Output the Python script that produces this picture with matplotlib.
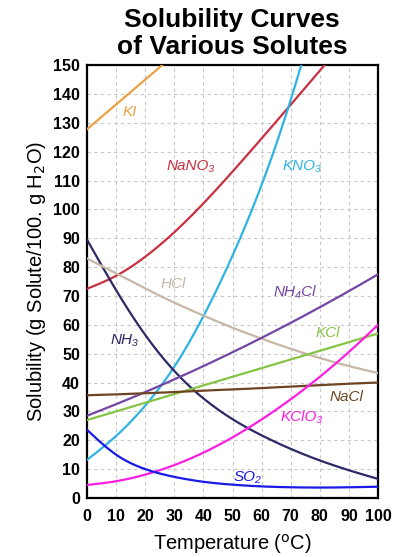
import numpy as np
import matplotlib
matplotlib.use("Agg")
import matplotlib.pyplot as plt

plt.rcParams["font.family"] = ["Liberation Sans", "DejaVu Sans"]

# Temperatures (ºC) and solubility (g solute / 100 g water)
temps = [0, 10, 20, 30, 40, 50, 60, 70, 80, 90, 100]

ki = [127.8, 136.4, 145, 153.6, 162.2, 170.8, 179.4, 188, 196.6, 205.2, 213.8]
nano3 = [72.5, 77, 83.6, 92.1, 102.1, 113.1, 124.6, 136.3, 148.1, 159.9, 171.7]
kno3 = [13.2, 21.5, 32, 45.5, 63, 84, 108.5, 138, 173, 213, 258]
nh3 = [89.5, 72, 56.5, 44, 34.5, 27.3, 21.7, 17, 13, 9.6, 6.6]
hcl = [83, 77.8, 72.6, 67.7, 63.2, 59, 55.2, 51.7, 48.5, 45.7, 43.3]
nh4cl = [28.5, 32.5, 36.7, 41.1, 45.7, 50.5, 55.5, 60.7, 66.1, 71.7, 77.5]
kcl = [27, 30, 33, 36, 39, 42, 45, 48, 51, 54, 57]
nacl = [35.6, 35.9, 36.3, 36.7, 37.2, 37.6, 38.1, 38.6, 39.1, 39.6, 40]
kclo3 = [4.5, 5.8, 8.1, 11.4, 15.7, 21, 27.2, 34.2, 42, 50.6, 60]
so2 = [23.6, 15, 10, 7.3, 5.6, 4.6, 4, 3.7, 3.6, 3.7, 3.9]

names = ["KI", "NaNO₃", "KNO₃", "NH₃", "HCl", "NH₄Cl", "KCl", "NaCl", "KClO₃", "SO₂"]
series = [ki, nano3, kno3, nh3, hcl, nh4cl, kcl, nacl, kclo3, so2]
colors = ["#E9A345", "#C9303F", "#2FB3E3", "#2B2966", "#C7B7A6",
          "#7345A4", "#85C445", "#6E4523", "#FB1FE3", "#1A1AE6"]
label_pos = [(14.8, 133.7), (35.7, 115), (74, 115), (13, 54.9), (29.6, 74.3),
             (71.5, 71.5), (82.9, 57.3), (89.3, 35), (73.9, 28), (55, 7.3)]


def natural_spline(x, y, xs):
    # natural cubic spline through the read points, for a smooth drawn curve
    x = np.asarray(x, float)
    y = np.asarray(y, float)
    n = len(x)
    h = np.diff(x)
    A = np.zeros((n, n))
    b = np.zeros(n)
    A[0, 0] = A[-1, -1] = 1
    for i in range(1, n - 1):
        A[i, i - 1] = h[i - 1]
        A[i, i] = 2 * (h[i - 1] + h[i])
        A[i, i + 1] = h[i]
        b[i] = 3 * ((y[i + 1] - y[i]) / h[i] - (y[i] - y[i - 1]) / h[i - 1])
    c = np.linalg.solve(A, b)
    idx = np.clip(np.searchsorted(x, xs) - 1, 0, n - 2)
    dx = xs - x[idx]
    hi = h[idx]
    bb = (y[idx + 1] - y[idx]) / hi - hi * (2 * c[idx] + c[idx + 1]) / 3
    d = (c[idx + 1] - c[idx]) / (3 * hi)
    return y[idx] + bb * dx + c[idx] * dx ** 2 + d * dx ** 3


fig = plt.figure(figsize=(4.03, 5.57), dpi=100)
ax = fig.add_axes([0.216, 0.106, 0.722, 0.777])

xs = np.linspace(0, 100, 400)
for vals, color in zip(series, colors):
    ax.plot(xs, natural_spline(temps, vals, xs), color=color, lw=1.6, zorder=3)

for name, color, (lx, ly) in zip(names, colors, label_pos):
    ax.text(lx, ly, name, color=color, fontsize=11, style="italic",
            ha="center", va="center", zorder=4)

ax.set_xlim(0, 100)
ax.set_ylim(0, 150)
ax.set_xticks(range(0, 101, 10))
ax.set_yticks(range(0, 151, 10))
ax.grid(True, color="#C8C8C8", ls=(0, (3, 3)), lw=0.8)
ax.tick_params(length=0, labelsize=11.5)
ax.tick_params(axis="x", pad=8)
ax.tick_params(axis="y", pad=5)
for lab in ax.get_xticklabels() + ax.get_yticklabels():
    lab.set_fontweight("bold")
for sp in ax.spines.values():
    sp.set_linewidth(1.6)

ax.set_xlabel("Temperature ($^{\\mathrm{o}}$C)", fontsize=14.5, labelpad=6)
ax.set_ylabel("Solubility (g Solute/100. g H$_{\\mathrm{2}}$O)", fontsize=14.5, labelpad=4)
fig.text(0.576, 0.94, "Solubility Curves\nof Various Solutes", fontsize=19,
         fontweight="bold", ha="center", va="center", linespacing=1.12)

fig.savefig("out.png", dpi=100)
